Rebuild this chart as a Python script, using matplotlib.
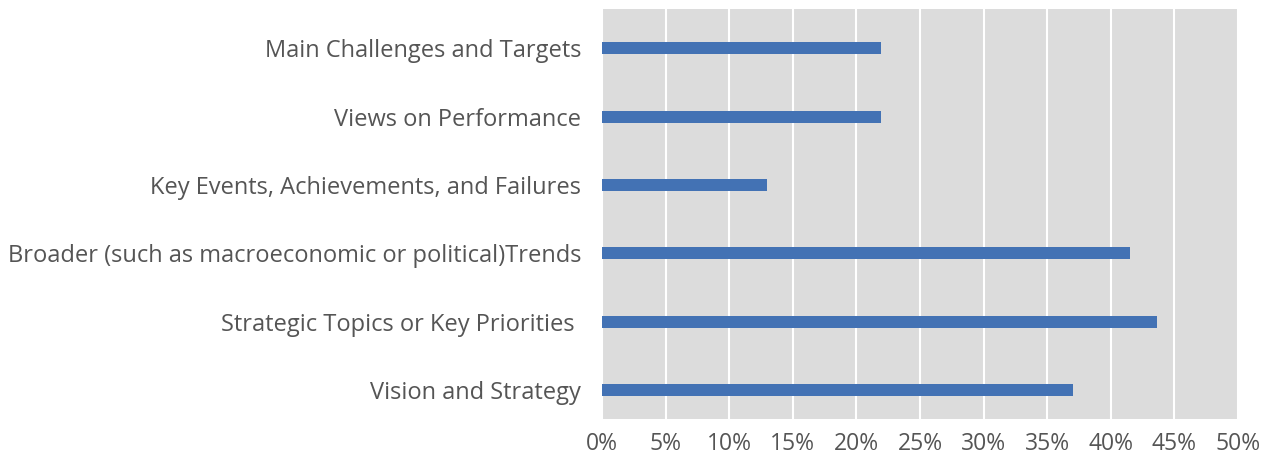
import matplotlib
matplotlib.use("Agg")
import matplotlib.pyplot as plt
from matplotlib.ticker import PercentFormatter

categories = [
    "Main Challenges and Targets",
    "Views on Performance",
    "Key Events, Achievements, and Failures",
    "Broader (such as macroeconomic or political)Trends",
    "Strategic Topics or Key Priorities ",
    "Vision and Strategy",
]
values = [21.9, 21.9, 13.0, 41.5, 43.6, 37.0]
xticks = [0, 5, 10, 15, 20, 25, 30, 35, 40, 45, 50]

plt.rcParams['font.family'] = ['Open Sans', 'DejaVu Sans']
text_color = '#555555'

fig = plt.figure(figsize=(12.71, 4.58), dpi=100)
ax = fig.add_axes([602/1271, 39/458, (1238-602)/1271, (419-9)/458])
ax.set_facecolor('#DCDCDC')

ypos = list(range(len(categories)))[::-1]
bar_pos = [p - 0.075 for p in ypos]
ax.barh(bar_pos, values, height=0.176, color='#4372B4', zorder=3)
ax.set_yticks(bar_pos)
ax.set_yticklabels(categories, fontsize=17, color=text_color)
ax.set_ylim(-0.5, len(categories) - 0.5)
ax.set_xlim(0, 50)
ax.set_xticks(xticks)
ax.xaxis.set_major_formatter(PercentFormatter(decimals=0))
ax.tick_params(axis='x', labelsize=16.5, colors=text_color, length=0, pad=9)
ax.tick_params(axis='y', length=0, pad=15)
ax.grid(axis='x', color='white', linewidth=1.5, zorder=1)
for s in ax.spines.values():
    s.set_visible(False)

fig.savefig('out.png', dpi=100)
